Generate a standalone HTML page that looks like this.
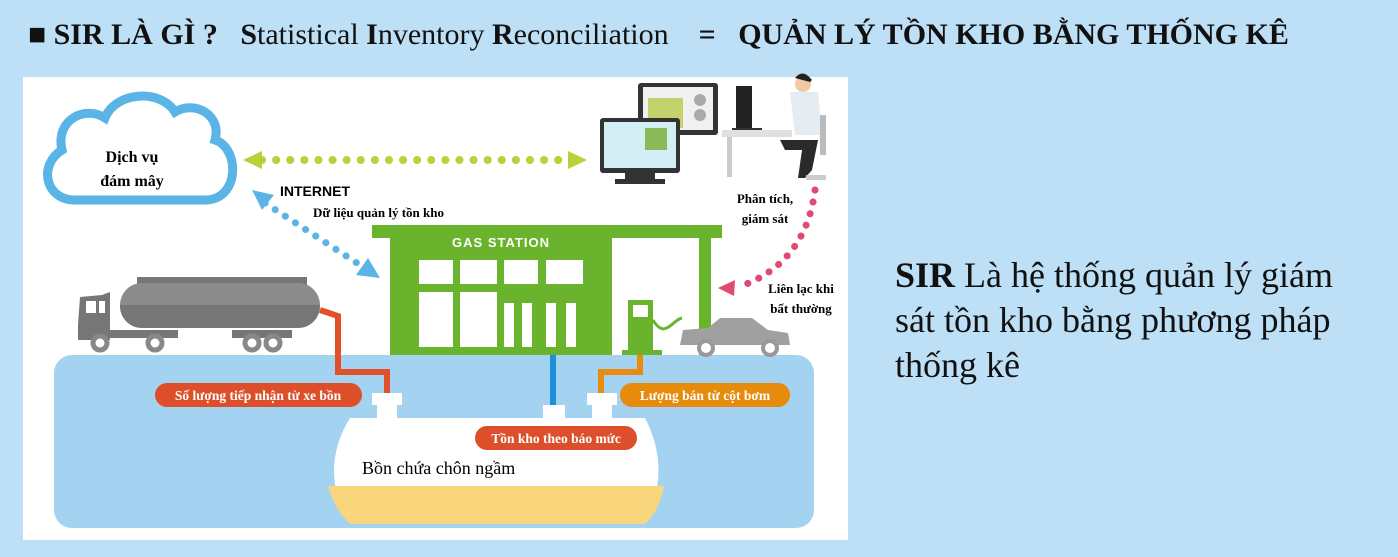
<!DOCTYPE html>
<html><head><meta charset="utf-8"><style>
html,body{margin:0;padding:0}
body{width:1398px;height:557px;background:#bde0f6;position:relative;overflow:hidden;font-family:"Liberation Serif",serif}
.t{position:absolute;white-space:nowrap}
</style></head><body>
<div class="t" style="left:28px;top:18px;font-size:30px;color:#111"><b>■ SIR LÀ GÌ ?</b>&nbsp;&nbsp; <b>S</b>tatistical <b>I</b>nventory <b>R</b>econciliation&nbsp;&nbsp;&nbsp; <b>=</b>&nbsp;&nbsp; <b>QUẢN LÝ TỒN KHO BẰNG THỐNG KÊ</b></div>
<svg width="1398" height="557" style="position:absolute;left:0;top:0" font-family="Liberation Serif, serif">
<rect x="23" y="77" width="825" height="463" fill="#fff"/>
<rect x="54" y="355" width="760" height="173" rx="18" fill="#a3d3f0"/>
<path d="M75 200 C45 200 38 165 62 150 C55 120 85 105 105 118 C115 92 160 88 175 112 C195 100 222 115 215 140 C240 148 240 200 205 200 Z" fill="#fff" stroke="#5ab4e6" stroke-width="9"/>
<text x="132" y="162" font-size="16" font-weight="bold" text-anchor="middle">Dịch vụ</text>
<text x="132" y="186" font-size="16" font-weight="bold" text-anchor="middle">đám mây</text>
<line x1="262" y1="160" x2="565" y2="160" stroke="#b5d43b" stroke-width="8" stroke-dasharray="0.1 14" stroke-linecap="round"/>
<polygon points="243,160 262,151 262,169" fill="#b5d43b"/>
<polygon points="587,160 568,151 568,169" fill="#b5d43b"/>
<line x1="265" y1="203" x2="360" y2="265" stroke="#5ab4e6" stroke-width="7" stroke-dasharray="0.1 12" stroke-linecap="round"/>
<polygon points="252,190 274,195 262,210" fill="#5ab4e6"/>
<polygon points="380,278 356,275 368,258" fill="#5ab4e6"/>
<text x="280" y="196" font-size="14" font-weight="bold" font-family="Liberation Sans, sans-serif">INTERNET</text>
<text x="313" y="217" font-size="13" font-weight="bold">Dữ liệu quản lý tồn kho</text>
<rect x="372" y="225" width="350" height="13" fill="#6ab42d"/>
<rect x="390" y="225" width="222" height="130" fill="#6ab42d"/>
<rect x="699" y="225" width="12" height="130" fill="#6ab42d"/>
<text x="501" y="247" font-size="13" font-weight="bold" fill="#fff" text-anchor="middle" font-family="Liberation Sans, sans-serif" letter-spacing="1">GAS STATION</text>
<g fill="#fff">
<rect x="419" y="260" width="34" height="24"/><rect x="460" y="260" width="37" height="24"/><rect x="504" y="260" width="34" height="24"/><rect x="546" y="260" width="37" height="24"/>
<rect x="419" y="292" width="34" height="55"/><rect x="460" y="292" width="37" height="55"/><rect x="504" y="303" width="10" height="44"/><rect x="522" y="303" width="10" height="44"/><rect x="546" y="303" width="10" height="44"/><rect x="566" y="303" width="10" height="44"/>
</g>
<rect x="628" y="300" width="25" height="52" fill="#6ab42d"/><rect x="633" y="305" width="15" height="12" fill="#fff"/>
<rect x="622" y="350" width="40" height="5" fill="#6ab42d"/>
<path d="M653 320 C665 340 672 320 682 318" fill="none" stroke="#6ab42d" stroke-width="3"/>
<path d="M680 345 L683 330 L708 328 L720 318 L752 318 L768 330 L788 333 L790 345 Z" fill="#a0a0a0"/>
<circle cx="706" cy="348" r="7" fill="#fff" stroke="#999" stroke-width="4"/><circle cx="770" cy="348" r="7" fill="#fff" stroke="#999" stroke-width="4"/>
<rect x="137" y="277" width="170" height="8" fill="#777"/>
<rect x="120" y="283" width="200" height="45" rx="22" fill="#8b8b8b"/>
<path d="M120 305 h200 v1 a22 22 0 0 1 -22 22 h-156 a22 22 0 0 1 -22 -22 z" fill="#767676"/>
<path d="M80 297 L102 295 L110 292 L110 340 L78 340 L78 325 Z" fill="#767676"/>
<rect x="86" y="301" width="10" height="12" fill="#fff"/><rect x="99" y="301" width="6" height="12" fill="#fff"/>
<rect x="78" y="330" width="100" height="8" fill="#767676"/><rect x="232" y="330" width="60" height="8" fill="#767676"/>
<g fill="#fff" stroke="#888" stroke-width="5"><circle cx="100" cy="343" r="7"/><circle cx="155" cy="343" r="7"/><circle cx="252" cy="343" r="7"/><circle cx="273" cy="343" r="7"/></g>
<path d="M320 310 L338 316 L338 372 L387 372 L387 395" fill="none" stroke="#e1502b" stroke-width="6"/>
<line x1="553" y1="355" x2="553" y2="408" stroke="#1a90d8" stroke-width="6"/>
<path d="M640 355 L640 372 L601 372 L601 395" fill="none" stroke="#e98b0e" stroke-width="6"/>
<path d="M350 418 L645 418 Q672 470 645 524 L350 524 Q318 470 350 418 Z" fill="#fff"/>
<path d="M328 486 L664 486 Q660 510 645 524 L350 524 Q335 510 328 486 Z" fill="#f9d57b"/>
<rect x="372" y="393" width="30" height="12" fill="#fff"/><rect x="377" y="404" width="20" height="15" fill="#fff"/>
<rect x="587" y="393" width="30" height="12" fill="#fff"/><rect x="592" y="404" width="20" height="15" fill="#fff"/>
<rect x="543" y="405" width="22" height="14" fill="#fff"/>
<text x="362" y="474" font-size="18">Bồn chứa chôn ngầm</text>
<rect x="155" y="383" width="207" height="24" rx="12" fill="#dc4f2a"/>
<text x="258" y="400" font-size="13.5" font-weight="bold" fill="#fff" text-anchor="middle">Số lượng tiếp nhận từ xe bồn</text>
<rect x="620" y="383" width="170" height="24" rx="12" fill="#e78b0c"/>
<text x="705" y="400" font-size="13.5" font-weight="bold" fill="#fff" text-anchor="middle">Lượng bán từ cột bơm</text>
<rect x="475" y="426" width="162" height="24" rx="12" fill="#dc4f2a"/>
<text x="556" y="443" font-size="13.5" font-weight="bold" fill="#fff" text-anchor="middle">Tồn kho theo báo mức</text>
<rect x="638" y="83" width="80" height="52" rx="3" fill="#333"/><rect x="643" y="87" width="70" height="43" fill="#f0f0f0"/>
<rect x="648" y="98" width="35" height="30" fill="#c3d26a"/><circle cx="700" cy="100" r="6" fill="#aaa"/><circle cx="700" cy="115" r="6" fill="#aaa"/>
<rect x="600" y="118" width="80" height="55" rx="3" fill="#333"/><rect x="604" y="122" width="72" height="46" fill="#d4eef5"/>
<rect x="645" y="128" width="22" height="22" fill="#8ab95a"/>
<rect x="625" y="173" width="30" height="6" fill="#333"/><rect x="615" y="179" width="50" height="5" fill="#333"/>
<rect x="736" y="86" width="16" height="42" fill="#222"/><rect x="732" y="128" width="30" height="3" fill="#333"/>
<rect x="722" y="130" width="70" height="7" fill="#e0e0e0"/><rect x="727" y="137" width="5" height="40" fill="#ccc"/>
<circle cx="803" cy="84" r="8" fill="#f2c9a5"/><path d="M795 78 Q803 68 812 80 L810 82 Z" fill="#222"/>
<path d="M790 92 L818 92 L822 135 L795 135 Z" fill="#e6edf2"/>
<path d="M780 140 L818 140 L812 170 L805 178 L798 178 L802 150 L785 150 Z" fill="#2a2a2a"/>
<rect x="820" y="115" width="6" height="40" fill="#bbb"/><rect x="806" y="175" width="20" height="5" fill="#ccc"/>
<path d="M815 190 C810 230 790 270 738 287" fill="none" stroke="#e04a73" stroke-width="7" stroke-dasharray="0.1 12" stroke-linecap="round"/>
<polygon points="718,288 735,280 734,296" fill="#e04a73"/>
<text x="765" y="203" font-size="13" font-weight="bold" text-anchor="middle">Phân tích,</text>
<text x="765" y="223" font-size="13" font-weight="bold" text-anchor="middle">giám sát</text>
<text x="801" y="293" font-size="13" font-weight="bold" text-anchor="middle">Liên lạc khi</text>
<text x="801" y="313" font-size="13" font-weight="bold" text-anchor="middle">bất thường</text>
</svg>
<div class="t" style="left:895px;top:253px;font-size:36px;line-height:45px;color:#111;white-space:normal;width:460px"><b>SIR</b> Là hệ thống quản lý giám sát tồn kho bằng phương pháp thống kê</div>
</body></html>
